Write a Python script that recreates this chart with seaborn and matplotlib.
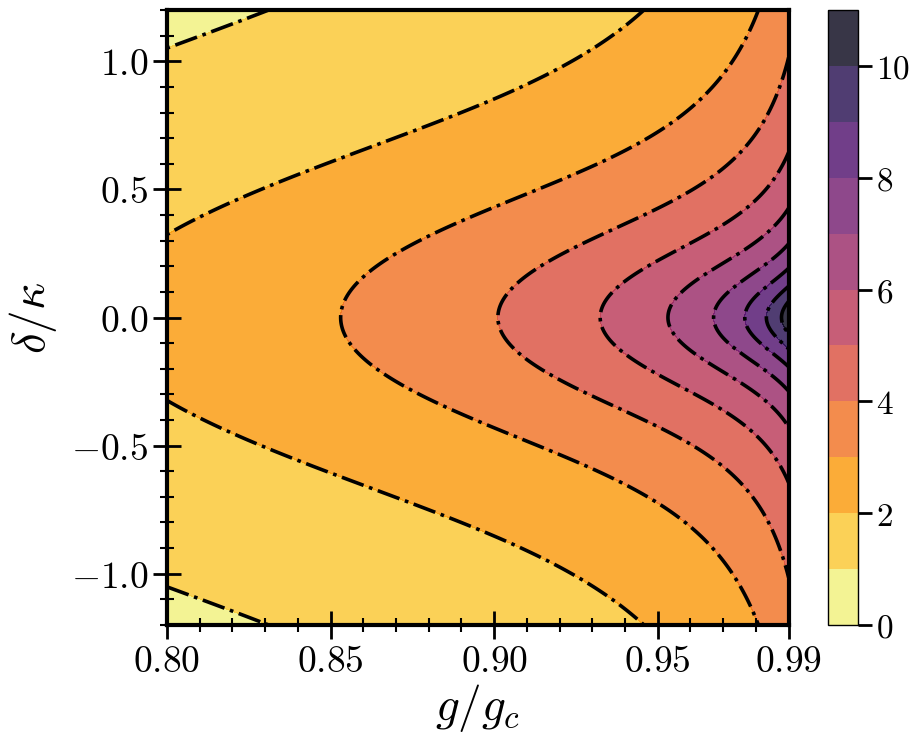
import numpy as np
import matplotlib
matplotlib.use('Agg')
import matplotlib.pyplot as plt
import seaborn as sns
from matplotlib.ticker import FixedLocator, MultipleLocator, FuncFormatter

sns.set_style('ticks')
plt.rcParams['mathtext.fontset'] = 'cm'
plt.rcParams['font.family'] = ['DejaVu Serif']
plt.rcParams['axes.axisbelow'] = False
plt.rcParams['axes.edgecolor'] = 'black'
plt.rcParams['xtick.color'] = 'black'
plt.rcParams['ytick.color'] = 'black'
plt.rcParams['text.color'] = 'black'
plt.rcParams['axes.labelcolor'] = 'black'

# grid of the map
g_ratio = np.linspace(0.80, 0.99, 381)
detuning = np.linspace(-1.2, 1.2, 481)

# contour levels and ticks
fill_levels = np.arange(0, 12)
line_levels = np.arange(1, 11)
x_ticks = [0.80, 0.85, 0.90, 0.95, 0.99]
y_ticks = [-1.0, -0.5, 0.0, 0.5, 1.0]
cbar_ticks = [0, 2, 4, 6, 8, 10]

# response surface fitted to the contour lines
ref_gap = 0.1469      # 1 - g/gc where the level-3 line crosses delta = 0
ref_level = 3.0
slope = 2.47
curvature = 0.137
gamma0 = 0.002
gamma1 = 1.1
gamma_sat = 7.0
width = 0.8

G, D = np.meshgrid(g_ratio, detuning)
u = 1.0 - G
gamma = gamma0 + gamma1 * u / (1.0 + gamma_sat * u)
h = 2 * width**2 * (np.sqrt(1.0 + (D / width)**2) - 1.0)
Q = u**2 + gamma * h
L = -0.5 * np.log(Q) + np.log(ref_gap)
Z = ref_level + slope * L + curvature * L**2

fig = plt.figure(figsize=(9.17, 7.49), dpi=100)
ax = fig.add_axes([0.182, 0.1656, 0.678, 0.821])
cax = fig.add_axes([0.9025, 0.1656, 0.0327, 0.821])

cf = ax.contourf(G, D, Z, levels=fill_levels, cmap='inferno_r', alpha=0.8)
ax.contour(G, D, Z, levels=line_levels, colors='k', linestyles='-.', linewidths=2.6)

ax.set_xlim(0.80, 0.99)
ax.set_ylim(-1.2, 1.2)
ax.xaxis.set_major_locator(FixedLocator(x_ticks))
ax.yaxis.set_major_locator(FixedLocator(y_ticks))
ax.xaxis.set_minor_locator(MultipleLocator(0.01))
ax.yaxis.set_minor_locator(MultipleLocator(0.1))
ax.xaxis.set_major_formatter(FuncFormatter(lambda v, p: r'$%.2f$' % v))
ax.yaxis.set_major_formatter(FuncFormatter(lambda v, p: r'$%.1f$' % v))
ax.tick_params(which='major', direction='inout', length=20, width=2, labelsize=27)
ax.tick_params(which='minor', direction='inout', length=10, width=1.5)
for sp in ax.spines.values():
    sp.set_linewidth(3)
    sp.set_color('black')

ax.set_xlabel(r'$g/g_c$', fontsize=34, labelpad=2)
ax.set_ylabel(r'$\delta/\kappa$', fontsize=34, labelpad=8)

cb = fig.colorbar(cf, cax=cax, ticks=cbar_ticks)
cb.ax.yaxis.set_major_formatter(FuncFormatter(lambda v, p: r'$%d$' % v))
cb.ax.tick_params(length=10, width=2, labelsize=24, pad=3)
cb.outline.set_linewidth(1)
cb.outline.set_edgecolor('black')

fig.savefig('out.png', dpi=100)
